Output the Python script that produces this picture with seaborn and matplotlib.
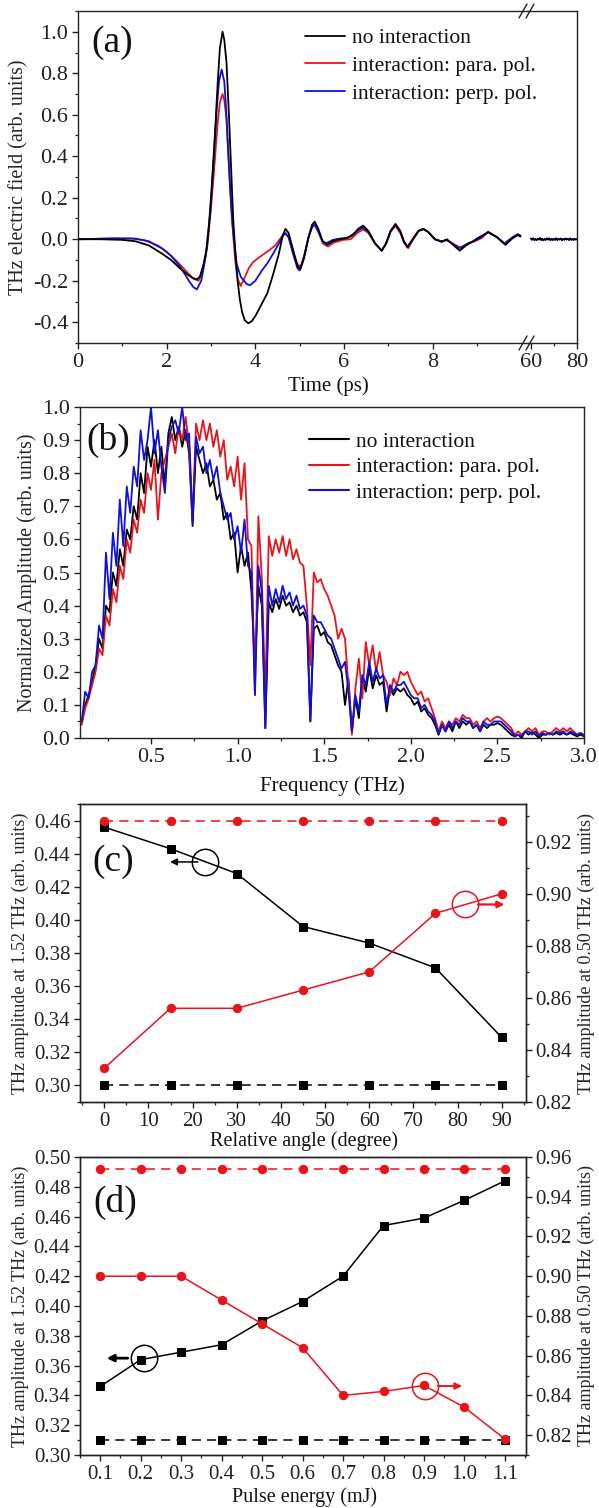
import numpy as np
import matplotlib
matplotlib.use("Agg")
import matplotlib.pyplot as plt
from matplotlib.lines import Line2D
from matplotlib.ticker import MultipleLocator, FixedLocator, FormatStrFormatter
import seaborn as sns

# ---------------- (a) time-domain waveforms ----------------
t_no = [0.0, 0.5, 1.0, 1.3, 1.6, 1.9, 2.1, 2.3, 2.5, 2.6, 2.68, 2.75, 2.82, 2.9, 2.95, 3.0, 3.05,
        3.1, 3.15, 3.2, 3.26, 3.3, 3.35, 3.4, 3.45, 3.5, 3.55, 3.6, 3.65, 3.7, 3.76, 3.84, 3.92,
        4.0, 4.1, 4.27, 4.4, 4.53, 4.62, 4.68, 4.75, 4.85, 4.95, 5.02, 5.1,
        5.2, 5.28, 5.34, 5.42, 5.52, 5.62, 5.75, 5.9, 6.05, 6.2, 6.32, 6.43, 6.55, 6.7, 6.85, 6.95,
        7.05, 7.16, 7.27, 7.35, 7.43, 7.55, 7.68, 7.79, 7.9, 8.05, 8.2, 8.32, 8.45, 8.61, 8.75,
        8.91, 9.05, 9.25, 9.45, 9.64, 9.8, 9.92, 9.98]
e_no = [0.0, 0.0, -0.003, -0.01, -0.03, -0.07, -0.10, -0.14, -0.175, -0.188, -0.193, -0.18,
        -0.13, -0.05, 0.06, 0.2, 0.37, 0.55, 0.75, 0.92, 1.0, 0.96, 0.85, 0.62, 0.36, 0.1, -0.07,
        -0.2, -0.29, -0.35, -0.39, -0.405, -0.395, -0.37, -0.33, -0.26, -0.17, -0.07, 0.02,
        0.05, 0.03, -0.05, -0.13, -0.142, -0.09, 0.01, 0.07, 0.085, 0.05, -0.01, -0.027,
        -0.01, 0.0, 0.005, 0.02, 0.05, 0.066, 0.04, -0.02, -0.055, -0.02, 0.04, 0.074, 0.04,
        -0.01, -0.039, 0.0, 0.04, 0.05, 0.035, 0.0, -0.013, 0.0, -0.025, -0.055, -0.03, -0.01,
        0.01, 0.034, 0.01, -0.027, 0.005, 0.02, 0.013]

t_para = [0.0, 0.8, 1.2, 1.5, 1.8, 2.0, 2.2, 2.4, 2.6, 2.72, 2.82, 2.92, 3.0, 3.05, 3.1, 3.15,
          3.2, 3.26, 3.3, 3.35, 3.4, 3.45, 3.5, 3.55, 3.6, 3.67, 3.75, 3.85, 3.95, 4.1, 4.3,
          4.45, 4.55, 4.66, 4.75, 4.85, 4.95,
          5.02, 5.1, 5.2, 5.28, 5.34, 5.42, 5.52, 5.64, 5.78, 5.99, 6.15, 6.3, 6.43, 6.55, 6.7,
          6.85, 6.95, 7.05, 7.16, 7.27, 7.35, 7.45, 7.55, 7.68, 7.79, 7.9, 8.05, 8.2, 8.32, 8.45,
          8.65, 8.8, 8.95, 9.1, 9.25, 9.45, 9.64, 9.8, 9.92, 9.98]
e_para = [0.0, 0.004, 0.004, -0.005, -0.03, -0.06, -0.1, -0.145, -0.19, -0.2, -0.15, -0.03, 0.15,
          0.28, 0.42, 0.56, 0.66, 0.70, 0.67, 0.58, 0.38, 0.18, 0.02, -0.11, -0.19, -0.225,
          -0.19, -0.14, -0.11, -0.085, -0.055,
          -0.03, 0.0, 0.03, 0.01, -0.06, -0.12, -0.132, -0.08, 0.01, 0.06, 0.074, 0.04, -0.02,
          -0.035, -0.015, -0.003, 0.0, 0.03, 0.048, 0.03, -0.02, -0.055, -0.02, 0.035, 0.064,
          0.03, -0.015, -0.043, -0.005, 0.04, 0.048, 0.035, 0.0, -0.01, -0.005, -0.02, -0.043,
          -0.02, -0.01, 0.005, 0.037, 0.01, -0.025, 0.005, 0.022, 0.015]

t_perp = [0.0, 0.8, 1.3, 1.6, 1.9, 2.1, 2.3, 2.5, 2.6, 2.68, 2.78, 2.88, 2.98, 3.03, 3.08, 3.13,
          3.18, 3.24, 3.3, 3.34, 3.38, 3.43, 3.48, 3.58, 3.67, 3.8, 3.88, 4.0, 4.15, 4.27, 4.4,
          4.52, 4.62, 4.68, 4.75, 4.85,
          4.95, 5.0, 5.08, 5.2, 5.28, 5.34, 5.42, 5.52, 5.6, 5.75, 5.9, 6.1, 6.3, 6.43, 6.55, 6.7,
          6.85, 6.95, 7.05, 7.16, 7.27, 7.35, 7.43, 7.55, 7.68, 7.79, 7.9, 8.05, 8.2, 8.32, 8.5,
          8.6, 8.75, 8.91, 9.1, 9.25, 9.45, 9.62, 9.8, 9.92, 9.98]
e_perp = [0.0, 0.004, 0.003, -0.01, -0.045, -0.08, -0.13, -0.2, -0.23, -0.242, -0.2, -0.08, 0.12,
          0.28, 0.45, 0.63, 0.76, 0.818, 0.76, 0.63, 0.45, 0.25, 0.08, -0.12, -0.18, -0.215,
          -0.222, -0.2, -0.15, -0.116,
          -0.07, -0.025, 0.015, 0.03, 0.01, -0.07, -0.14, -0.151, -0.1, 0.01, 0.058, 0.069, 0.035,
          -0.01, -0.019, -0.003, 0.003, 0.008, 0.04, 0.056, 0.035, -0.02, -0.055, -0.02, 0.04,
          0.07, 0.035, -0.01, -0.036, 0.0, 0.04, 0.05, 0.035, 0.0, -0.01, -0.003, -0.03, -0.043,
          -0.025, -0.01, 0.01, 0.034, 0.01, -0.02, 0.01, 0.025, 0.018]

# late-time tail, 60-80 ps
t_tail = [60.0 + 0.5 * k for k in range(41)]
e_tail = [0.004, -0.003, 0.005, -0.004, 0.002, -0.005, 0.004, -0.002, 0.006, -0.004, 0.003,
          -0.006, 0.002, -0.003, 0.005, -0.002, 0.004, -0.005, 0.003, -0.004, 0.002, -0.003,
          0.005, -0.004, 0.003, -0.002, 0.004, -0.005, 0.002, -0.003, 0.004, -0.002, 0.003,
          -0.004, 0.005, -0.003, 0.002, -0.004, 0.003, -0.002, 0.001]

# ---------------- (b) normalized spectra ----------------
freq = [round(0.10 + 0.02 * k, 2) for k in range(146)]
amp_no = [0.05, 0.10, 0.13, 0.17, 0.22, 0.30, 0.27, 0.40, 0.38, 0.50, 0.46, 0.57, 0.52, 0.63, 0.60,
          0.70, 0.66, 0.80, 0.74, 0.88, 0.82, 0.90, 0.80, 0.88, 0.76, 0.92, 0.97, 0.90, 0.94, 0.88,
          0.93, 0.86, 0.64, 0.88, 0.84, 0.80, 0.83, 0.76, 0.78, 0.72, 0.74, 0.66, 0.68, 0.60, 0.62,
          0.50, 0.58, 0.52, 0.56, 0.44, 0.22, 0.46, 0.40, 0.03, 0.41, 0.38, 0.42, 0.39, 0.43, 0.40,
          0.41, 0.38, 0.40, 0.37, 0.38, 0.35, 0.05, 0.33, 0.34, 0.31, 0.32, 0.29, 0.28, 0.25, 0.22,
          0.20, 0.10, 0.18, 0.02, 0.12, 0.06, 0.18, 0.14, 0.21, 0.15, 0.19, 0.16, 0.17, 0.08, 0.15,
          0.13, 0.15, 0.14, 0.15, 0.13, 0.12, 0.10, 0.11, 0.08, 0.09, 0.07, 0.06, 0.04, 0.01, 0.04,
          0.02, 0.04, 0.02, 0.05, 0.03, 0.05, 0.04, 0.05, 0.03, 0.04, 0.02, 0.04, 0.03, 0.04, 0.04,
          0.045, 0.04, 0.03, 0.02, 0.01, 0.005, 0.01, 0.00, 0.02, 0.01, 0.02, 0.01, 0.00, 0.01,
          0.01, 0.015, 0.01, 0.015, 0.01, 0.015, 0.01, 0.015, 0.01, 0.005, 0.01, 0.005]
amp_para = [0.04, 0.09, 0.12, 0.16, 0.20, 0.27, 0.25, 0.37, 0.34, 0.45, 0.41, 0.52, 0.48, 0.60,
            0.56, 0.66, 0.62, 0.72, 0.68, 0.80, 0.75, 0.84, 0.66, 0.80, 0.84, 0.88, 0.92, 0.86,
            0.94, 0.90, 0.97, 0.88, 0.66, 0.95, 0.90, 0.96, 0.90, 0.95, 0.88, 0.93, 0.85, 0.90,
            0.78, 0.82, 0.76, 0.85, 0.72, 0.83, 0.60, 0.58, 0.13, 0.67, 0.48, 0.12, 0.61, 0.55,
            0.60, 0.56, 0.61, 0.55, 0.60, 0.54, 0.57, 0.53, 0.52, 0.40, 0.22, 0.50, 0.47, 0.48,
            0.45, 0.43, 0.40, 0.37, 0.30, 0.33, 0.30, 0.16, 0.01, 0.15, 0.24, 0.12, 0.29, 0.22,
            0.28, 0.20, 0.26, 0.19, 0.17, 0.13, 0.18, 0.16, 0.20, 0.19, 0.20, 0.17, 0.15, 0.13,
            0.14, 0.11, 0.12, 0.09, 0.06, 0.02, 0.05, 0.03, 0.05, 0.04, 0.06, 0.05, 0.07, 0.06,
            0.06, 0.04, 0.05, 0.03, 0.05, 0.06, 0.05, 0.06, 0.065, 0.06, 0.05, 0.04, 0.03, 0.01,
            0.02, 0.01, 0.02, 0.03, 0.02, 0.03, 0.01, 0.02, 0.02, 0.01, 0.02, 0.03, 0.02, 0.03,
            0.02, 0.03, 0.02, 0.01, 0.015, 0.01]
amp_perp = [0.05, 0.14, 0.12, 0.20, 0.22, 0.34, 0.30, 0.56, 0.42, 0.62, 0.52, 0.72, 0.58, 0.76,
            0.68, 0.82, 0.76, 0.93, 0.84, 0.90, 1.00, 0.86, 0.93, 0.82, 0.74, 0.90, 0.94, 0.96,
            0.92, 1.00, 0.90, 0.92, 0.65, 0.91, 0.86, 0.88, 0.80, 0.84, 0.78, 0.82, 0.74, 0.70,
            0.66, 0.68, 0.60, 0.64, 0.56, 0.66, 0.52, 0.50, 0.13, 0.52, 0.44, 0.03, 0.46, 0.40,
            0.45, 0.41, 0.46, 0.42, 0.44, 0.40, 0.43, 0.39, 0.40, 0.37, 0.05, 0.37, 0.35, 0.35,
            0.33, 0.31, 0.30, 0.27, 0.24, 0.21, 0.23, 0.14, 0.02, 0.13, 0.08, 0.19, 0.16, 0.23,
            0.17, 0.21, 0.18, 0.19, 0.10, 0.16, 0.14, 0.16, 0.16, 0.17, 0.15, 0.13, 0.12, 0.12,
            0.09, 0.10, 0.08, 0.07, 0.05, 0.01, 0.04, 0.02, 0.05, 0.03, 0.05, 0.04, 0.06, 0.05,
            0.05, 0.03, 0.04, 0.02, 0.05, 0.04, 0.04, 0.05, 0.05, 0.05, 0.04, 0.03, 0.02, 0.005,
            0.01, 0.005, 0.02, 0.02, 0.01, 0.02, 0.005, 0.015, 0.01, 0.015, 0.01, 0.02, 0.015,
            0.02, 0.01, 0.02, 0.015, 0.01, 0.015, 0.005]

# ---------------- (c) angle dependence ----------------
angle = [0, 15, 30, 45, 60, 75, 90]
amp152_angle = [0.456, 0.443, 0.428, 0.396, 0.386, 0.371, 0.329]
amp152_angle_ref = [0.30] * 7
amp050_angle = [0.833, 0.856, 0.856, 0.863, 0.870, 0.8925, 0.900]
amp050_angle_ref = [0.928] * 7

# ---------------- (d) pulse-energy dependence ----------------
energy = [0.1, 0.2, 0.3, 0.4, 0.5, 0.6, 0.7, 0.8, 0.9, 1.0, 1.1]
amp152_energy = [0.346, 0.364, 0.369, 0.374, 0.390, 0.403, 0.420, 0.454, 0.459, 0.471, 0.484]
amp152_energy_ref = [0.31] * 11
amp050_energy = [0.900, 0.900, 0.900, 0.888, 0.876, 0.864, 0.840, 0.842, 0.845, 0.834, 0.818]
amp050_energy_ref = [0.954] * 11

labels = ["no interaction", "interaction: para. pol.", "interaction: perp. pol."]
RED = "#e8141b"
BLUE = "#1010d8"

sns.set_theme(style="ticks")
plt.rcParams["font.family"] = ["Liberation Serif", "DejaVu Serif"]
plt.rcParams.update({
    "axes.unicode_minus": False,
    "axes.linewidth": 1.0,
    "axes.edgecolor": "#222222",
    "xtick.direction": "out",
    "ytick.direction": "out",
    "xtick.major.size": 4,
    "ytick.major.size": 4,
    "xtick.minor.size": 2.5,
    "ytick.minor.size": 2.5,
    "xtick.major.width": 1.0,
    "ytick.major.width": 1.0,
    "xtick.minor.width": 0.9,
    "ytick.minor.width": 0.9,
    "xtick.color": "#222222",
    "ytick.color": "#222222",
    "text.color": "#111111",
})

W, H = 599, 1508
fig = plt.figure(figsize=(W / 100, H / 100), dpi=100)


def box(x0, y0, x1, y1):
    """Axes rectangle from pixel edges (top-left origin)."""
    return [x0 / W, 1 - y1 / H, (x1 - x0) / W, (y1 - y0) / H]


def line(ax, x, y, color, lw=1.2, **kw):
    sns.lineplot(x=x, y=y, ax=ax, color=color, linewidth=lw, sort=False,
                 estimator=None, legend=False, **kw)
    return ax.lines[-1]


# ======================= panel (a) =======================
axa = fig.add_axes(box(78, 11, 528, 343))
axa2 = fig.add_axes(box(528, 11, 577, 343), sharey=axa)
axa2.patch.set_visible(False)
axa.set_zorder(2)
axa.patch.set_visible(False)

for tt, ee, c in [(t_para, e_para, RED), (t_perp, e_perp, BLUE), (t_no, e_no, "black")]:
    line(axa, tt, ee, c, lw=1.3)
for c in [RED, BLUE, "black"]:
    line(axa2, t_tail, e_tail, c, lw=1.0)

axa.set_xlim(0, 10.15)
axa.set_ylim(-0.5, 1.1)
axa2.set_xlim(58.8, 80)
axa.xaxis.set_major_locator(FixedLocator([0, 2, 4, 6, 8]))
axa.xaxis.set_minor_locator(FixedLocator([1, 3, 5, 7, 9]))
axa.yaxis.set_major_locator(MultipleLocator(0.2))
axa.yaxis.set_minor_locator(MultipleLocator(0.1))
axa.yaxis.set_major_formatter(FormatStrFormatter("%.1f"))
axa2.xaxis.set_major_locator(FixedLocator([60, 80]))
axa2.xaxis.set_minor_locator(FixedLocator([70]))
axa.spines["right"].set_visible(False)
axa2.spines["left"].set_visible(False)
axa2.tick_params(axis="y", which="both", left=False, labelleft=False)
for a in (axa, axa2):
    a.tick_params(axis="both", which="major", labelsize=16, pad=3)
    a.set_xlabel("")
    a.set_ylabel("")
axa.set_ylabel("THz electric field (arb. units)", fontsize=14.5, va="center")
axa.yaxis.set_label_coords((19 - 78) / 450, 0.5)
fig.text(328 / W, 1 - 386 / H, "Time (ps)", ha="center", va="center", fontsize=15)
axa.text(0.03, 0.905, "(a)", transform=axa.transAxes, fontsize=27, ha="left", va="center")

# axis-break marks
for yb in (11, 343):
    for dx in (-4, 3):
        x0 = 527 + dx
        fig.add_artist(Line2D([(x0 - 4) / W, (x0 + 4) / W],
                              [1 - (yb + 7) / H, 1 - (yb - 7) / H],
                              transform=fig.transFigure, color="#222222", lw=1.0))

handles = [Line2D([], [], color="black", lw=1.3), Line2D([], [], color=RED, lw=1.3),
           Line2D([], [], color=BLUE, lw=1.3)]
axa.legend(handles, labels, loc="upper left", bbox_to_anchor=(0.505, 0.948), frameon=False,
           fontsize=15.5, handlelength=1.85, handletextpad=0.3, labelspacing=0.35,
           borderpad=0, borderaxespad=0)

# ======================= panel (b) =======================
axb = fig.add_axes(box(80, 407, 584, 738))
for amp, c in [(amp_no, "black"), (amp_para, RED), (amp_perp, BLUE)]:
    line(axb, freq, amp, c, lw=1.3)
axb.set_xlim(0.09, 3.0)
axb.set_ylim(0, 1.0)
axb.xaxis.set_major_locator(MultipleLocator(0.5))
axb.xaxis.set_minor_locator(MultipleLocator(0.25))
axb.yaxis.set_major_locator(MultipleLocator(0.1))
axb.yaxis.set_minor_locator(MultipleLocator(0.05))
axb.xaxis.set_major_formatter(FormatStrFormatter("%.1f"))
axb.yaxis.set_major_formatter(FormatStrFormatter("%.1f"))
axb.tick_params(axis="both", which="major", labelsize=16, pad=3)
axb.set_xlabel("")
axb.set_ylabel("Normalized Amplitude (arb. units)", fontsize=14.5, va="center")
axb.yaxis.set_label_coords((27 - 80) / 504, 0.5)
fig.text(332 / W, 1 - 786 / H, "Frequency (THz)", ha="center", va="center", fontsize=15)
axb.text(0.012, 0.9, "(b)", transform=axb.transAxes, fontsize=27, ha="left", va="center")
handles_b = [Line2D([], [], color="black", lw=1.5), Line2D([], [], color=RED, lw=1.5),
             Line2D([], [], color=BLUE, lw=1.5)]
axb.legend(handles_b, labels, loc="upper left", bbox_to_anchor=(0.455, 0.925), frameon=False,
           fontsize=15.5, handlelength=1.85, handletextpad=0.3, labelspacing=0.25,
           borderpad=0, borderaxespad=0)


# ======================= panels (c) and (d) =======================
def dual_panel(rect, x, yl, yl_ref, yr, yr_ref, xlim, ylim_l, ylim_r, xmaj, xmin, xfmt,
               tag, tag_pos):
    ax = fig.add_axes(rect)
    ax2 = ax.twinx()
    l1 = line(ax, x, yl_ref, "black", lw=1.1, marker="s", markersize=5.5,
              markeredgecolor="black", markerfacecolor="black")
    l1.set_dashes([6, 4])
    line(ax, x, yl, "black", lw=1.1, marker="s", markersize=5.5,
         markeredgecolor="black", markerfacecolor="black")
    l2 = line(ax2, x, yr_ref, RED, lw=1.1, marker="o", markersize=6,
              markeredgecolor=RED, markerfacecolor=RED)
    l2.set_dashes([6, 4])
    line(ax2, x, yr, RED, lw=1.1, marker="o", markersize=6,
         markeredgecolor=RED, markerfacecolor=RED)
    ax.set_xlim(*xlim)
    ax.set_ylim(*ylim_l)
    ax2.set_ylim(*ylim_r)
    ax.xaxis.set_major_locator(MultipleLocator(xmaj))
    ax.xaxis.set_minor_locator(MultipleLocator(xmin))
    ax.xaxis.set_major_formatter(FormatStrFormatter(xfmt))
    for a in (ax, ax2):
        a.yaxis.set_major_locator(MultipleLocator(0.02))
        a.yaxis.set_minor_locator(MultipleLocator(0.01))
        a.yaxis.set_major_formatter(FormatStrFormatter("%.2f"))
        a.tick_params(axis="both", which="major", labelsize=15, pad=3)
        a.set_xlabel("")
    ax.set_ylabel("THz amplitude at 1.52 THz (arb. units)", fontsize=13, va="center")
    ax.yaxis.set_label_coords((20 - 80) / 446, 0.5)
    ax2.set_ylabel("THz amplitude at 0.50 THz (arb. units)", fontsize=13, va="center",
                   rotation=90)
    ax2.yaxis.set_label_coords((586 - 80) / 446, 0.5)
    ax.text(tag_pos[0], tag_pos[1], tag, transform=ax.transAxes, fontsize=27,
            ha="left", va="center")
    return ax, ax2


axc, axc2 = dual_panel(box(80, 804, 526, 1102), angle, amp152_angle, amp152_angle_ref,
                       amp050_angle, amp050_angle_ref, (-5.5, 95.5), (0.29, 0.47),
                       (0.82, 0.9345), 10, 5, "%d", "(c)", (0.027, 0.805))
fig.text(304 / W, 1 - 1141 / H, "Relative angle (degree)", ha="center", va="center",
         fontsize=14.5)
axd, axd2 = dual_panel(box(80, 1157, 526, 1455), energy, amp152_energy, amp152_energy_ref,
                       amp050_energy, amp050_energy_ref, (0.05, 1.152), (0.30, 0.50),
                       (0.81, 0.96), 0.1, 0.05, "%.1f", "(d)", (0.031, 0.846))
fig.text(304 / W, 1 - 1497 / H, "Pulse energy (mJ)", ha="center", va="center", fontsize=14.5)


# guide circles with arrows pointing to the relevant axis
def guide(ax, center, tail, head, color, lw):
    ax.plot([center[0]], [center[1]], marker="o", markersize=19, markerfacecolor="none",
            markeredgecolor=color, markeredgewidth=1.1, linestyle="none", zorder=5)
    ax.annotate("", xy=head, xytext=tail,
                arrowprops=dict(arrowstyle="-|>", color=color, lw=lw, mutation_scale=10,
                                shrinkA=0, shrinkB=0), zorder=5)


guide(axc, (22.8, 0.435), (21.2, 0.435), (14.9, 0.435), "black", 1.1)
guide(axc2, (81.7, 0.8959), (84.6, 0.8959), (90.6, 0.8959), RED, 1.6)
guide(axd, (0.207, 0.365), (0.168, 0.365), (0.116, 0.365), "black", 2.0)
guide(axd2, (0.902, 0.8447), (0.934, 0.8447), (0.994, 0.8447), RED, 1.4)

fig.savefig("out.png", dpi=100)
